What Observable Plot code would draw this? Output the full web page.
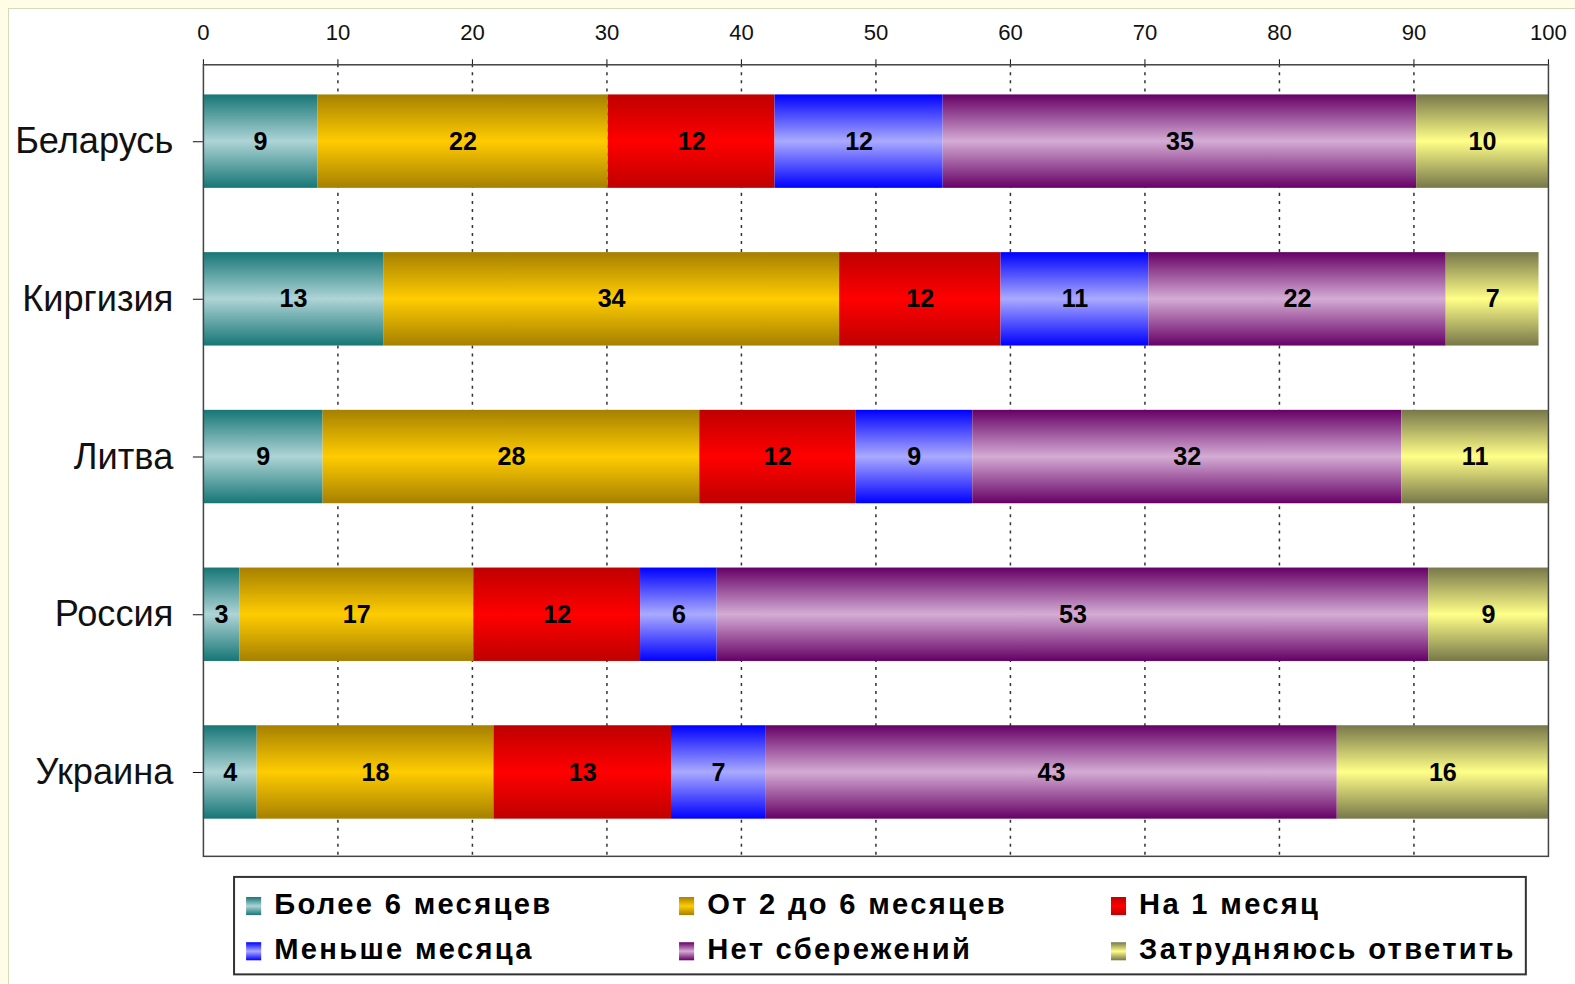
<!DOCTYPE html>
<html>
<head>
<meta charset="utf-8">
<script src="https://cdn.jsdelivr.net/npm/d3@7"></script>
<script src="https://cdn.jsdelivr.net/npm/@observablehq/plot@0.6"></script>
<style>
  html, body { margin: 0; padding: 0; overflow: hidden; }
  body { width: 1575px; height: 984px; background: #fffde6; position: relative;
         font-family: "Liberation Sans", Arial, sans-serif; }
  #root { position: absolute; left: 0; top: 0; width: 1575px; height: 984px;
          transform: scale(1.0045); transform-origin: 0 0; }
  #panel { position: absolute; left: 8px; top: 8px; width: 1566px; height: 975px; background: #fff;
           border-left: 1px solid #d8d8c0; border-top: 1px solid #d8d8c0; overflow: hidden; }
  #chart { position: absolute; left: 0; top: 0; width: 1566px; }
  #chart svg { max-width: none !important; }
  #legend { position: absolute; left: 223px; top: 863px; width: 1284px; height: 95px;
            border: 2px solid #333; background: #fff; }
  .item { position: absolute; font-weight: bold; font-size: 29px; letter-spacing: 2.3px; color: #000; line-height: 34px; white-space: nowrap; }
  .sw { display: inline-block; width: 15px; height: 18px; margin-right: 13px; vertical-align: -1px; }
</style>
</head>
<body>
<div id="root">
<div id="panel">
  <div id="chart"></div>
  <div id="legend"></div>
</div>
</div>
<script>
const countries = ["Беларусь", "Киргизия", "Литва", "Россия", "Украина"];
const series = ["Более 6 месяцев", "От 2 до 6 месяцев", "На 1 месяц", "Меньше месяца", "Нет сбережений", "Затрудняюсь ответить"];
// bar lengths (percent), one array per series, in country order
const moreThan6 = [8.5, 13.4, 8.9, 2.7, 4.0];
const from2to6  = [21.6, 33.9, 28.0, 17.4, 17.6];
const oneMonth  = [12.4, 12.0, 11.6, 12.4, 13.2];
const lessMonth = [12.5, 11.0, 8.7, 5.7, 7.0];
const noSavings = [35.2, 22.1, 31.9, 52.9, 42.5];
const hardToSay = [9.8, 6.9, 10.9, 8.9, 15.7];
// printed labels
const labels = [
  [9, 13, 9, 3, 4],
  [22, 34, 28, 17, 18],
  [12, 12, 12, 12, 13],
  [12, 11, 9, 6, 7],
  [35, 22, 32, 53, 43],
  [10, 7, 11, 9, 16]
];
const xTicks = [0, 10, 20, 30, 40, 50, 60, 70, 80, 90, 100];
const gridTicks = [10, 20, 30, 40, 50, 60, 70, 80, 90];

const gradColors = [
  ["#177676", "#aed4d6"],
  ["#a68000", "#ffcc00"],
  ["#bf0000", "#ff0000"],
  ["#0000ff", "#aaaaff"],
  ["#660066", "#d4acd4"],
  ["#77774a", "#ffff88"]
];
const gradIds = series.map((s, i) => `url(#g${i})`);

const seriesValues = [moreThan6, from2to6, oneMonth, lessMonth, noSavings, hardToSay];
const data = [];
countries.forEach((c, ci) => {
  series.forEach((s, si) => {
    data.push({country: c, series: s, value: seriesValues[si][ci], label: labels[si][ci]});
  });
});

const font = `"Liberation Sans", Arial, sans-serif`;
const plot = Plot.plot({
  width: 1566,
  height: 853,
  marginLeft: 193,
  marginRight: 34,
  marginTop: 55,
  marginBottom: 10,
  style: {fontFamily: font, background: "transparent", overflow: "visible"},
  x: {domain: [0, 100]},
  y: {domain: countries, paddingInner: 0.41, paddingOuter: 0.205, align: 0.44},
  color: {domain: series, range: gradIds},
  marks: [
    Plot.gridX(gridTicks, {stroke: "#333", strokeOpacity: 1, strokeDasharray: "3,5", strokeWidth: 1.5}),
    Plot.axisX(xTicks, {anchor: "top", tickSize: 6, tickPadding: 19, fontSize: 22, label: null, color: "#111"}),
    Plot.axisY({tickSize: 10, tickPadding: 20, fontSize: 36, label: null, color: "#111"}),
    Plot.barX(data, Plot.stackX({x: "value", y: "country", fill: "series", order: null})),
    Plot.text(data, Plot.stackX({x: "value", y: "country", text: "label", order: null,
      fontSize: 25, fontWeight: "bold", fill: "#000"})),
    Plot.frame({stroke: "#444", strokeWidth: 1.5})
  ]
});
document.getElementById("chart").appendChild(plot);

const defs = d3.select(plot).insert("defs", ":first-child");
gradColors.forEach(([dark, light], i) => {
  const g = defs.append("linearGradient").attr("id", `g${i}`)
    .attr("x1", 0).attr("y1", 0).attr("x2", 0).attr("y2", 1);
  g.append("stop").attr("offset", "0%").attr("stop-color", dark);
  g.append("stop").attr("offset", "50%").attr("stop-color", light);
  g.append("stop").attr("offset", "100%").attr("stop-color", dark);
});

// legend
const legend = document.getElementById("legend");
const colX = [11, 442, 872];
const rowY = [9, 54];
series.forEach((s, i) => {
  const [dark, light] = gradColors[i];
  const el = document.createElement("div");
  el.className = "item";
  el.style.left = colX[i % 3] + "px";
  el.style.top = rowY[Math.floor(i / 3)] + "px";
  el.innerHTML = `<span class="sw" style="background: linear-gradient(${dark}, ${light} 50%, ${dark})"></span>${s}`;
  legend.appendChild(el);
});
</script>
</body>
</html>
